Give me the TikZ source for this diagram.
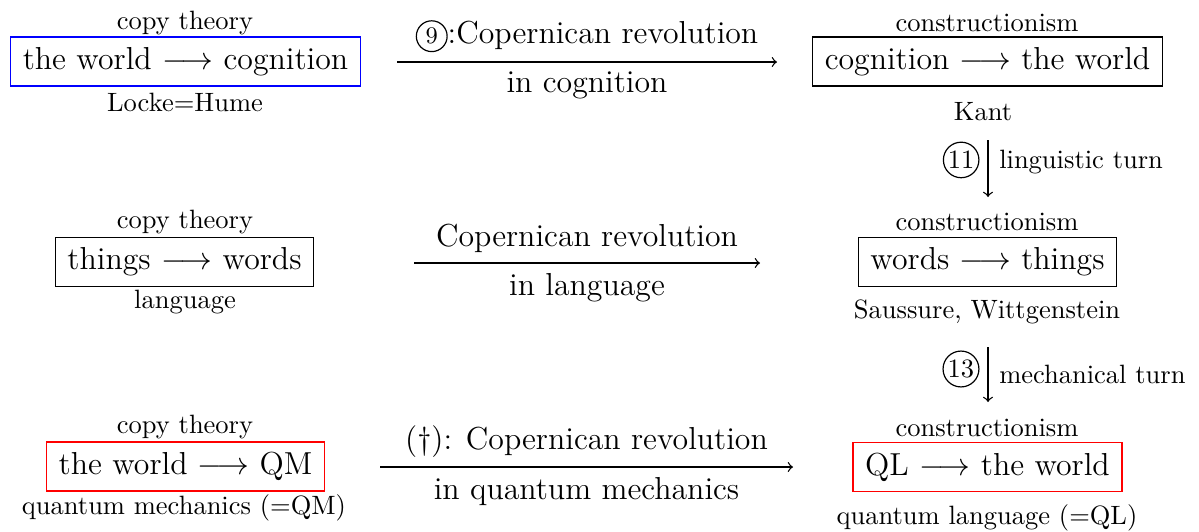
\documentclass[tikz,border=0pt]{standalone}
\usetikzlibrary{shapes.geometric}
\tikzset{
 boxx/.style={draw, line width=0.5pt, minimum height=18.4pt, inner xsep=4.6pt, font=\large},
 lbl/.style={inner sep=0pt, font=\normalsize},
 arr/.style={->, line width=0.5pt},
 big/.style={font=\large},
 circnum/.style={draw, circle, inner sep=0.5pt, line width=0.45pt},
}
\newcommand\cnum[2][]{\tikz[baseline=(cn.base)]\node[circnum,#1](cn){#2};}
\begin{document}
\begin{tikzpicture}[x=0.3774pt,y=-0.3774pt]
\useasboundingbox (0,0) rectangle (1199,531);
% row 1
\node[boxx, draw=blue] (A1) at (185.5,61.5) {the world $\longrightarrow$ cognition};
\node[lbl] (A1t) at (185,23) {copy theory};
\node[lbl] (A1b) at (185,102) {Locke=Hume};
\node[boxx] (B1) at (987.5,61.5) {cognition $\longrightarrow$ the world};
\node[lbl] (B1t) at (987,23) {constructionism};
\node[lbl] (B1b) at (983,112) {Kant};
\coordinate (h1s) at (397,62);
\coordinate (h1e) at (777,62);
\draw[arr] (h1s) -- node[big, above, inner sep=3.5pt] {\cnum[inner sep=1.4pt]{\small 9}:Copernican revolution} node[big, below, inner sep=3.5pt] {in cognition} (h1e);
% vertical 1
\coordinate (v1s) at (988,140);
\coordinate (v1e) at (988,197);
\draw[arr] (v1s) -- node[pos=0.39, right, inner sep=4pt] {linguistic turn} node[pos=0.35, left, inner sep=3pt] {\cnum{11}} (v1e);
% row 2
\node[boxx] (A2) at (184.5,262) {things $\longrightarrow$ words};
\node[lbl] (A2t) at (185,222) {copy theory};
\node[lbl] (A2b) at (185,302) {language};
\node[boxx] (B2) at (987.5,262) {words $\longrightarrow$ things};
\node[lbl] (B2t) at (987,222) {constructionism};
\node[lbl] (B2b) at (987,312) {Saussure, Wittgenstein};
\coordinate (h2s) at (414,263);
\coordinate (h2e) at (760,263);
\draw[arr] (h2s) -- node[big, above, inner sep=3.5pt] {Copernican revolution} node[big, below, inner sep=3.5pt] {in language} (h2e);
% vertical 2
\coordinate (v2s) at (988,347);
\coordinate (v2e) at (988,402);
\draw[arr] (v2s) -- node[pos=0.5, right, inner sep=4pt] {mechanical turn} node[pos=0.4, left, inner sep=3pt] {\cnum{13}} (v2e);
% row 3
\node[boxx, draw=red] (A3) at (185.5,466.5) {the world $\longrightarrow$ QM};
\node[lbl] (A3t) at (185,427) {copy theory};
\node[lbl] (A3b) at (184,508) {quantum mechanics (=QM)};
\node[boxx, draw=red] (B3) at (987.5,467) {QL $\longrightarrow$ the world};
\node[lbl] (B3t) at (987,428) {constructionism};
\node[lbl] (B3b) at (987,518) {quantum language (=QL)};
\coordinate (h3s) at (380,467);
\coordinate (h3e) at (793,467);
\draw[arr] (h3s) -- node[big, above, inner sep=3.5pt] {(\textdagger): Copernican revolution} node[big, below, inner sep=3.5pt] {in quantum mechanics} (h3e);
\end{tikzpicture}
\end{document}
